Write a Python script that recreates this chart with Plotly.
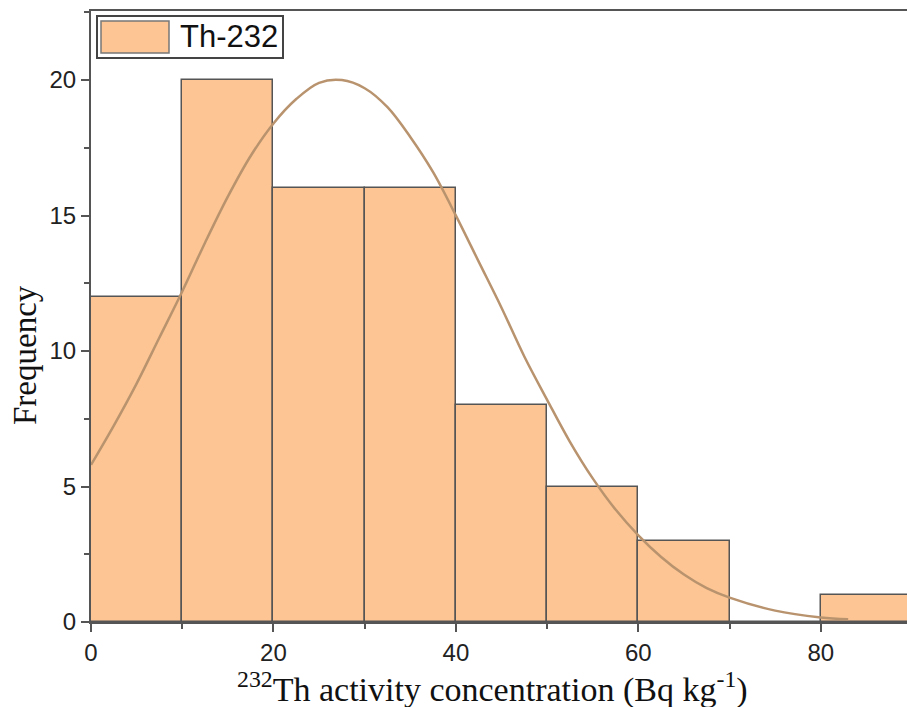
import plotly.graph_objects as go

# ---- data ----
bin_left = [0, 10, 20, 30, 40, 50, 60, 70, 80]
bin_width = 10
counts = [12, 20, 16, 16, 8, 5, 3, 0, 1]

# fitted normal curve
curve_x = [0, 2.5, 5, 7.5, 10, 12.5, 15, 17.5, 20, 22.5, 25, 27.5, 30, 32.5, 35, 37.5, 40,
           42.5, 45, 47.5, 50, 52.5, 55, 57.5, 60, 62.5, 65, 67.5, 70, 75, 80, 83]
curve_y = [5.8, 7.25, 8.8, 10.5, 12.2, 14.0, 15.7, 17.2, 18.4, 19.3, 19.9, 20.0, 19.7, 19.0,
           17.9, 16.6, 15.0, 13.3, 11.6, 9.8, 8.2, 6.65, 5.3, 4.15, 3.2, 2.4, 1.75, 1.25,
           0.9, 0.42, 0.17, 0.1]

x_ticks = [0, 20, 40, 60, 80]
y_ticks = [0, 5, 10, 15, 20]
series_name = "Th-232"

BAR = "#FDC593"
EDGE = "#555555"
CURVE = "#B8936E"

fig = go.Figure()
fig.add_trace(go.Bar(
    x=[b + bin_width / 2 for b in bin_left], y=counts, width=bin_width,
    marker=dict(color=BAR, line=dict(color=EDGE, width=1.5)),
    showlegend=False,
))
fig.add_trace(go.Scatter(
    x=curve_x, y=curve_y, mode="lines", line=dict(color=CURVE, width=2.5, shape="spline", smoothing=1.0),
    showlegend=False,
))

W, H = 907, 707
L, R, T, B = 91, 0, 11, 85
pw, ph = W - L - R, H - T - B

def px(xp):
    return (xp - L) / pw

def py(yp):
    return (H - B - yp) / ph

tickfont = dict(family="Liberation Sans, Arial", size=24, color="#222222")
fig.update_layout(
    width=W, height=H,
    margin=dict(l=L, r=R, t=T, b=B),
    plot_bgcolor="white", paper_bgcolor="white",
    bargap=0,
    xaxis=dict(range=[0, 89.45], tickvals=x_ticks, showgrid=False, zeroline=False,
               showline=True, linecolor=EDGE, linewidth=2, mirror=True,
               ticks="outside", ticklen=8, tickwidth=1.5, tickcolor=EDGE,
               minor=dict(dtick=10, ticks="outside", ticklen=5, tickwidth=1.5, tickcolor=EDGE),
               tickfont=tickfont),
    yaxis=dict(range=[0, 22.55], tickvals=y_ticks, showgrid=False, zeroline=False,
               showline=True, linecolor=EDGE, linewidth=2, mirror=False,
               ticks="outside", ticklen=8, tickwidth=1.5, tickcolor=EDGE,
               minor=dict(dtick=2.5, ticks="outside", ticklen=5, tickwidth=1.5, tickcolor=EDGE),
               tickfont=tickfont),
    shapes=[
        dict(type="rect", xref="paper", yref="paper", x0=px(97), x1=px(283), y0=py(58), y1=py(16),
             line=dict(color="#444444", width=2), fillcolor="white", layer="above"),
        dict(type="rect", xref="paper", yref="paper", x0=px(101), x1=px(169), y0=py(53), y1=py(21),
             line=dict(color="#777777", width=1.5), fillcolor=BAR, layer="above"),
    ],
    annotations=[
        dict(text=series_name, xref="paper", yref="paper", x=px(178), y=py(37), xanchor="left",
             yanchor="middle", showarrow=False, font=dict(family="Liberation Sans, Arial", size=31, color="#111111")),
        dict(text="<sup>232</sup>Th activity concentration (Bq kg<sup>-1</sup>)", xref="paper", yref="paper",
             x=px(492), y=py(687), xanchor="center", yanchor="middle", showarrow=False,
             font=dict(family="Liberation Serif, Times New Roman", size=34, color="#111111")),
        dict(text="Frequency", xref="paper", yref="paper", x=px(25), y=py(355), xanchor="center",
             yanchor="middle", textangle=-90, showarrow=False,
             font=dict(family="Liberation Serif, Times New Roman", size=33, color="#111111")),
    ],
)

fig.write_html("out.html")
